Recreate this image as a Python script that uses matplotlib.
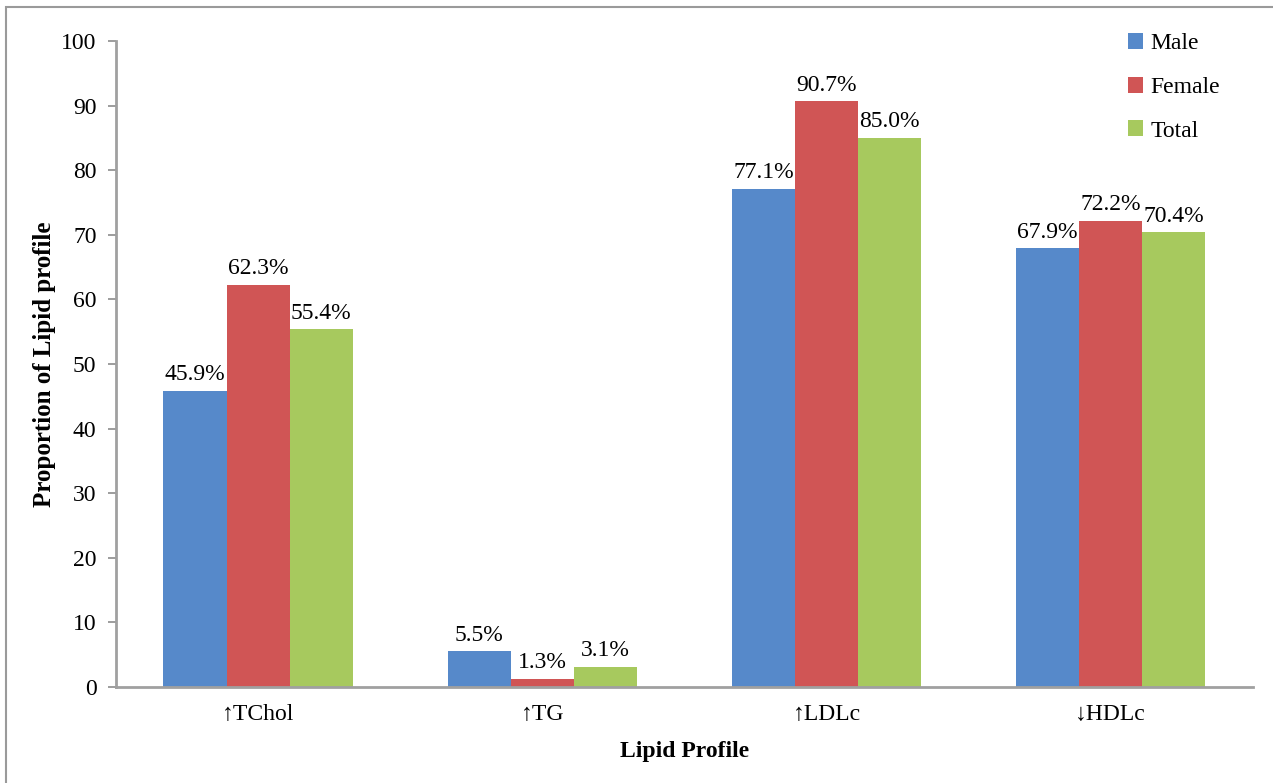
import numpy as np
import matplotlib.pyplot as plt
from matplotlib.patches import Rectangle

categories = ['\u2191TChol', '\u2191TG', '\u2191LDLc', '\u2193HDLc']
male = [45.9, 5.5, 77.1, 67.9]
female = [62.3, 1.3, 90.7, 72.2]
total = [55.4, 3.1, 85.0, 70.4]
series = [('Male', male, '#5689CA'), ('Female', female, '#D05555'), ('Total', total, '#A7C95E')]

plt.rcParams['font.family'] = ['Liberation Serif', 'DejaVu Serif']

fig = plt.figure(figsize=(12.73, 7.83), dpi=100)
ax = fig.add_axes([0.0911, 0.1226, 0.893, 0.825])

# outer frame (only the top and left edges show)
fig.patches.append(Rectangle((6 / 1273, -0.2), 1.5, 1.2 - 7 / 783,
                             transform=fig.transFigure, fill=False,
                             edgecolor='#9A9A9A', linewidth=1.5))

x = np.arange(len(categories))
w = 0.222
for i, (name, vals, col) in enumerate(series):
    bars = ax.bar(x + (i - 1) * w, vals, w, color=col, label=name)
    ax.bar_label(bars, labels=['%.1f%%' % v for v in vals], padding=4, fontsize=17)

ax.set_xlim(-0.5, 3.5)
ax.set_ylim(0, 100)
ax.set_yticks(range(0, 101, 10))
ax.set_xticks(x)
ax.set_xticklabels(categories, fontsize=17)
ax.tick_params(axis='y', labelsize=17, length=6, color='#8C8C8C', width=1.2, pad=8)
ax.tick_params(axis='x', length=0, pad=12)

for s in ['top', 'right']:
    ax.spines[s].set_visible(False)
for s in ['left', 'bottom']:
    ax.spines[s].set_color('#A0A0A0')
    ax.spines[s].set_linewidth(2)

ax.set_ylabel('Proportion of Lipid profile', fontsize=18, fontweight='bold', labelpad=4)
ax.set_xlabel('Lipid Profile', fontsize=17, fontweight='bold', labelpad=12)

ax.legend(loc='upper right', bbox_to_anchor=(0.99, 1.045), frameon=False, fontsize=17,
          handlelength=0.65, handleheight=0.65, handletextpad=0.3, labelspacing=0.95)

plt.savefig('out.png', dpi=100)
